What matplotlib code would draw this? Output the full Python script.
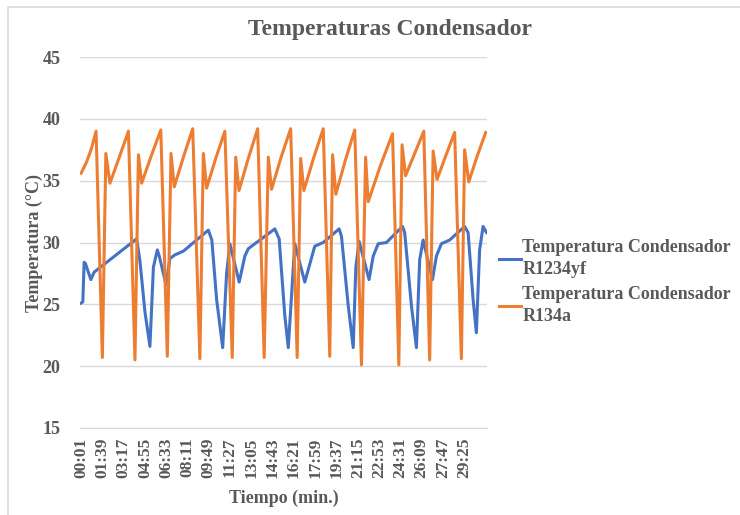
import matplotlib
matplotlib.use("Agg")
import matplotlib.pyplot as plt
from matplotlib.patches import Rectangle
from matplotlib.ticker import FixedLocator

# tiempo en segundos, temperatura en °C
t_r1234yf = [1, 9, 15, 21, 46, 61, 257, 272, 295, 318, 334, 352, 361, 392, 410, 433,
             472, 587, 603, 625, 653, 671, 686, 729, 755, 771, 809, 893, 913, 939,
             955, 985, 1031, 1077, 1116, 1189, 1200, 1231, 1254, 1266, 1281, 1327,
             1346, 1369, 1407, 1481, 1491, 1522, 1545, 1560, 1576, 1619, 1637, 1660,
             1698, 1767, 1783, 1806, 1821, 1836, 1852, 1868]
temp_r1234yf = [25.1, 25.2, 28.4, 28.3, 27.0, 27.6, 30.3, 28.5, 24.4, 21.6, 28.0, 29.4,
                28.9, 26.6, 28.7, 29.0, 29.3, 31.0, 30.2, 25.4, 21.5, 27.5, 29.9, 26.8,
                28.9, 29.5, 30.0, 31.1, 30.3, 24.1, 21.5, 29.9, 26.8, 29.7, 30.0, 31.1,
                30.5, 24.9, 21.5, 28.0, 30.1, 27.0, 28.9, 29.9, 30.0, 31.3, 30.8, 24.9,
                21.5, 28.6, 30.2, 27.0, 28.9, 29.9, 30.2, 31.3, 30.8, 25.4, 22.7, 29.4,
                31.3, 30.8]

t_r134a = [1, 26, 47, 70, 99, 115, 134, 177, 219, 249, 265, 280, 324, 368, 398, 415,
           430, 472, 515, 548, 564, 579, 621, 663, 697, 713, 728, 771, 814, 844, 863,
           878, 922, 966, 996, 1012, 1027, 1071, 1116, 1146, 1159, 1174, 1217, 1261,
           1292, 1311, 1323, 1379, 1435, 1464, 1479, 1495, 1537, 1579, 1606, 1622,
           1640, 1680, 1721, 1752, 1767, 1786, 1825, 1864]
temp_r134a = [35.6, 36.5, 37.5, 39.0, 20.7, 37.2, 34.8, 36.9, 39.0, 20.5, 37.1, 34.8,
              37.0, 39.1, 20.8, 37.2, 34.5, 36.9, 39.2, 20.6, 37.2, 34.4, 36.8, 39.0,
              20.7, 36.9, 34.2, 36.8, 39.2, 20.7, 36.9, 34.3, 36.9, 39.2, 20.7, 36.8,
              34.2, 36.8, 39.2, 20.8, 37.1, 33.9, 36.6, 39.1, 20.1, 36.9, 33.3, 36.2,
              38.8, 20.1, 37.9, 35.4, 37.2, 39.0, 20.5, 37.4, 35.1, 37.0, 38.9, 20.6,
              37.5, 34.9, 37.0, 38.9]

# etiquetas del eje x cada 98 s
x_ticks = [1 + 98 * i for i in range(19)]
x_labels = ["%02d:%02d" % (s // 60, s % 60) for s in x_ticks]
y_ticks = [15, 20, 25, 30, 35, 40, 45]

gray = "#595959"
plt.rcParams["font.family"] = ["Liberation Serif", "DejaVu Serif"]
plt.rcParams["font.weight"] = "bold"

fig = plt.figure(figsize=(7.4, 5.15), dpi=100)
ax = fig.add_axes([80 / 740, 1 - 428 / 515, 407 / 740, 371 / 515])

ax.plot(t_r1234yf, temp_r1234yf, color="#4472c4", lw=2.2,
        label="Temperatura Condensador\nR1234yf")
ax.plot(t_r134a, temp_r134a, color="#ed7d31", lw=2.2,
        label="Temperatura Condensador\nR134a")

ax.set_xlim(-4, 1870)
ax.set_ylim(15, 45)
ax.yaxis.set_major_locator(FixedLocator(y_ticks))
ax.set_xticks(x_ticks)
ax.set_xticklabels(x_labels, rotation=90, fontsize=12.5, color=gray, fontweight="bold")
ax.set_yticklabels([str(v) for v in y_ticks], fontsize=13, color=gray, fontweight="bold")
ax.tick_params(axis="x", length=0, pad=7)
ax.tick_params(axis="y", length=0, pad=14)
ax.grid(axis="y", color="#d9d9d9", lw=1)
ax.set_axisbelow(True)
for side in ["left", "right", "top"]:
    ax.spines[side].set_visible(False)
ax.spines["bottom"].set_color("#d9d9d9")

ax.set_ylabel("Temperatura (°C)", fontsize=13, color=gray, fontweight="bold", labelpad=0)
ax.set_xlabel("Tiempo (min.)", fontsize=13, color=gray, fontweight="bold", labelpad=8)

fig.text(390 / 740, 1 - 30 / 515, "Temperaturas Condensador", ha="center", va="center",
         fontsize=17, color=gray, fontweight="bold")

leg = fig.legend(loc="center left", bbox_to_anchor=(499 / 740, 1 - 282 / 515), frameon=False,
                 labelcolor=gray, handlelength=1.2, handletextpad=0.1,
                 labelspacing=0.45, borderpad=0, borderaxespad=0,
                 prop={"weight": "bold", "size": 13})
for txt in leg.get_texts():
    txt.set_linespacing(1.4)

# marco del gráfico
fig.patches.append(Rectangle((8 / 740, -0.05), 1.1, 1 - 7 / 515 + 0.05,
                             transform=fig.transFigure, fill=False,
                             edgecolor="#d9d9d9", lw=1.2))

plt.savefig("out.png", dpi=100)
